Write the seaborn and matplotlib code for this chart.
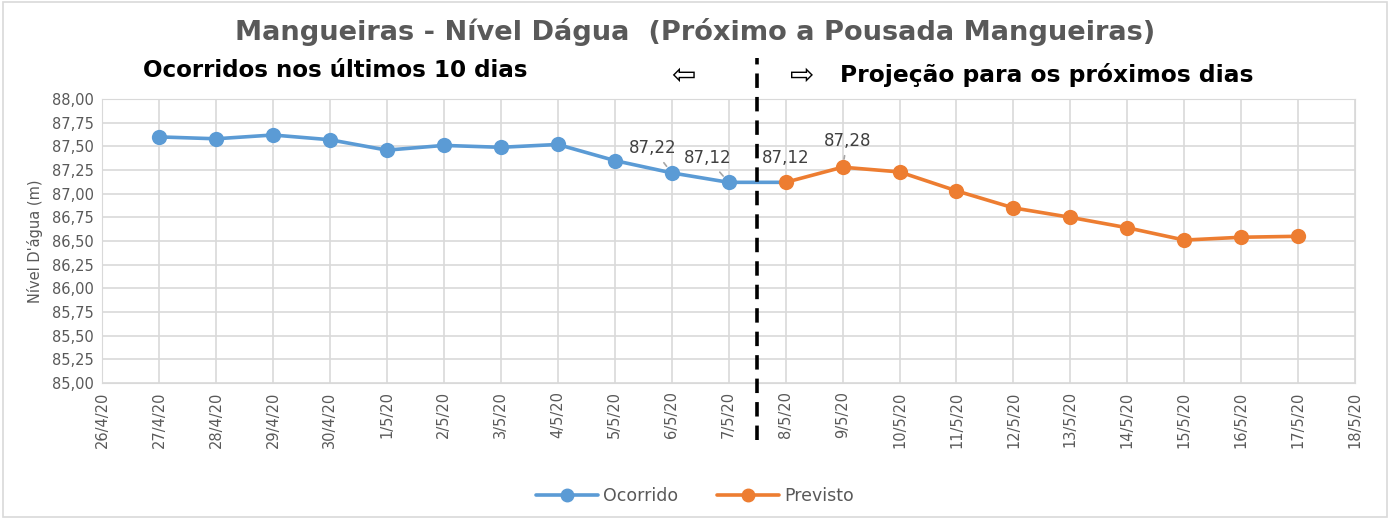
import numpy as np
import matplotlib
matplotlib.use("Agg")
import matplotlib.pyplot as plt
import matplotlib.dates as mdates
import matplotlib.ticker as mticker
import seaborn as sns
import pandas as pd

# data
dates_ocorrido = ["2020-04-27", "2020-04-28", "2020-04-29", "2020-04-30", "2020-05-01",
                  "2020-05-02", "2020-05-03", "2020-05-04", "2020-05-05", "2020-05-06",
                  "2020-05-07", "2020-05-08"]
nivel_ocorrido = [87.60, 87.58, 87.62, 87.57, 87.46, 87.51, 87.49, 87.52, 87.35, 87.22,
                  87.12, 87.12]
dates_previsto = ["2020-05-08", "2020-05-09", "2020-05-10", "2020-05-11", "2020-05-12",
                  "2020-05-13", "2020-05-14", "2020-05-15", "2020-05-16", "2020-05-17"]
nivel_previsto = [87.12, 87.28, 87.23, 87.03, 86.85, 86.75, 86.64, 86.51, 86.54, 86.55]

blue = "#5b9bd5"
orange = "#ed7d31"
grey_txt = "#595959"

sns.set_style("white")
plt.rcParams['font.family'] = ['DejaVu Sans']

df_oc = pd.DataFrame({'Data': pd.to_datetime(dates_ocorrido), 'Nivel': nivel_ocorrido})
df_pr = pd.DataFrame({'Data': pd.to_datetime(dates_previsto), 'Nivel': nivel_previsto})

fig = plt.figure(figsize=(13.9, 5.19), dpi=100)
ax = fig.add_axes([0.0734, 0.262, 0.9016, 0.5472])

# blue line runs up to the first forecast day, markers only on observed days
ax.plot(df_oc['Data'], df_oc['Nivel'], color=blue, lw=2.6, zorder=3)
sns.lineplot(data=df_oc.iloc[:-1], x='Data', y='Nivel', ax=ax, color=blue, lw=0,
             marker='o', markersize=11, markeredgewidth=0, label=None, zorder=4)
sns.lineplot(data=df_pr, x='Data', y='Nivel', ax=ax, color=orange, lw=2.6,
             marker='o', markersize=11, markeredgewidth=0, zorder=5)

# legend handles
h1 = plt.Line2D([], [], color=blue, lw=2.6, marker='o', markersize=9)
h2 = plt.Line2D([], [], color=orange, lw=2.6, marker='o', markersize=9)
fig.legend([h1, h2], ["Ocorrido", "Previsto"], loc='center', bbox_to_anchor=(0.5, 0.045),
           ncol=2, frameon=False, fontsize=12.5, handlelength=3.6, handletextpad=0.3,
           columnspacing=2.2, labelcolor=grey_txt)

ax.set_xlim(pd.Timestamp("2020-04-26"), pd.Timestamp("2020-05-18"))
ax.set_ylim(85, 88)
ax.xaxis.set_major_locator(mdates.DayLocator())
ax.xaxis.set_major_formatter(mticker.FuncFormatter(
    lambda v, p: "{d.day}/{d.month}/20".format(d=mdates.num2date(v))))
ax.yaxis.set_major_locator(mticker.MultipleLocator(0.25))
ax.yaxis.set_major_formatter(mticker.FuncFormatter(lambda v, p: ("%.2f" % v).replace('.', ',')))
plt.setp(ax.get_xticklabels(), rotation=90, fontsize=10.5, color=grey_txt)
plt.setp(ax.get_yticklabels(), fontsize=10.5, color=grey_txt)
ax.tick_params(axis='both', length=0, pad=6)
ax.grid(True, color="#d9d9d9", lw=1.2)
for s in ax.spines.values():
    s.set_color("#d9d9d9")
ax.set_xlabel("")
ax.set_ylabel("Nível D'água (m)", fontsize=10.5, color=grey_txt, labelpad=6)

# divider between observed and forecast
ax.axvline(pd.Timestamp("2020-05-07 12:00"), color='black', lw=2.6, ls=(0, (4, 2.5)),
           ymin=-0.2, ymax=1.145, clip_on=False, zorder=6)

# data labels
lab = dict(fontsize=12, color="#404040", ha='center', va='center')
arr = dict(arrowstyle='-', color='#a6a6a6', lw=1.2, shrinkA=2, shrinkB=6)
ax.annotate("87,22", xy=(pd.Timestamp("2020-05-06"), 87.22),
            xytext=(pd.Timestamp("2020-05-05 16:00"), 87.48), arrowprops=arr, **lab)
ax.annotate("87,12", xy=(pd.Timestamp("2020-05-07"), 87.12),
            xytext=(pd.Timestamp("2020-05-06 15:00"), 87.38), arrowprops=arr, **lab)
ax.annotate("87,12", xy=(pd.Timestamp("2020-05-08"), 87.12),
            xytext=(pd.Timestamp("2020-05-08"), 87.38), **lab)
ax.annotate("87,28", xy=(pd.Timestamp("2020-05-09"), 87.28),
            xytext=(pd.Timestamp("2020-05-09 02:00"), 87.56), arrowprops=arr, **lab)

# title and side captions
fig.text(0.5, 0.938, "Mangueiras - Nível Dágua  (Próximo a Pousada Mangueiras)",
         ha='center', va='center', fontsize=19.6, fontweight='bold', color=grey_txt)
fig.text(0.103, 0.865, "Ocorridos nos últimos 10 dias", ha='left', va='center',
         fontsize=16.6, fontweight='bold', color='black')
fig.text(0.492, 0.853, "⇦", ha='center', va='center', fontsize=21, color='black')
fig.text(0.577, 0.853, "⇨", ha='center', va='center', fontsize=21, color='black')
fig.text(0.604, 0.855, "Projeção para os próximos dias", ha='left', va='center',
         fontsize=16.8, fontweight='bold', color='black')

# outer frame
fig.patches.append(plt.Rectangle((0.002, 0.003), 0.996, 0.994, transform=fig.transFigure,
                                 fill=False, edgecolor="#d9d9d9", lw=1.2))

plt.savefig("out.png", dpi=100)
